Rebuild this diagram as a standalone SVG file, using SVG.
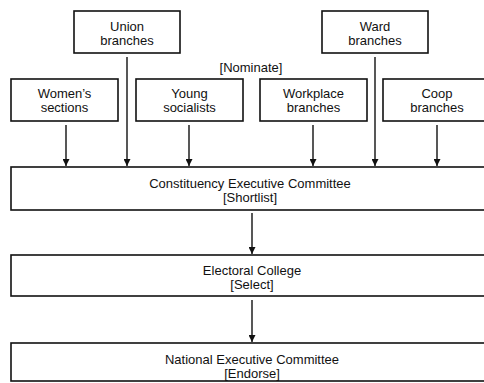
<svg xmlns="http://www.w3.org/2000/svg" width="484" height="383" viewBox="0 0 484 383">
<defs>
<marker id="ah" viewBox="0 0 10 10" refX="10" refY="5" markerWidth="7" markerHeight="7" markerUnits="userSpaceOnUse" orient="auto">
<path d="M0,0 L10,5 L0,10 Z" fill="#111"/>
</marker>
<style>
.box{fill:#fff;stroke:#111;stroke-width:1.6}
.t{font-family:"Liberation Sans",Arial,sans-serif;font-size:13px;fill:#111;text-anchor:middle}
.c{stroke:#111;stroke-width:1.4;fill:none;marker-end:url(#ah)}
</style>
</defs>
<rect width="484" height="383" fill="#fff"/>
<g id="union"><rect class="box" x="74" y="11" width="106" height="42"/><text class="t" x="127" y="31">Union</text><text class="t" x="127" y="45">branches</text></g>
<g id="ward"><rect class="box" x="322" y="11" width="106" height="42"/><text class="t" x="375" y="31">Ward</text><text class="t" x="375" y="45">branches</text></g>
<g id="nominate"><text class="t" x="251" y="72">[Nominate]</text></g>
<g id="womens"><rect class="box" x="11" y="79" width="107" height="42"/><text class="t" x="64.5" y="98">Women’s</text><text class="t" x="64.5" y="112">sections</text></g>
<g id="young"><rect class="box" x="136" y="79" width="107" height="42"/><text class="t" x="189.5" y="98">Young</text><text class="t" x="189.5" y="112">socialists</text></g>
<g id="workplace"><rect class="box" x="260" y="79" width="107" height="42"/><text class="t" x="313.5" y="98">Workplace</text><text class="t" x="313.5" y="112">branches</text></g>
<g id="coop"><rect class="box" x="383" y="79" width="110" height="42"/><text class="t" x="437" y="98">Coop</text><text class="t" x="437" y="112">branches</text></g>
<g id="cec"><rect class="box" x="11" y="167" width="480" height="43"/><text class="t" x="250" y="188">Constituency Executive Committee</text><text class="t" x="250" y="202">[Shortlist]</text></g>
<g id="electoral"><rect class="box" x="11" y="255" width="480" height="41"/><text class="t" x="252" y="275">Electoral College</text><text class="t" x="252" y="289">[Select]</text></g>
<g id="nec"><rect class="box" x="11" y="343" width="480" height="38"/><text class="t" x="252" y="364">National Executive Committee</text><text class="t" x="252" y="378">[Endorse]</text></g>
<g id="connectors">
<line class="c" x1="66" y1="125" x2="66" y2="166"/>
<line class="c" x1="127" y1="57" x2="127" y2="166"/>
<line class="c" x1="189" y1="125" x2="189" y2="166"/>
<line class="c" x1="313" y1="125" x2="313" y2="166"/>
<line class="c" x1="375" y1="57" x2="375" y2="166"/>
<line class="c" x1="437" y1="125" x2="437" y2="166"/>
<line class="c" x1="252" y1="213" x2="252" y2="254"/>
<line class="c" x1="252" y1="300" x2="252" y2="342"/>
</g>
</svg>
